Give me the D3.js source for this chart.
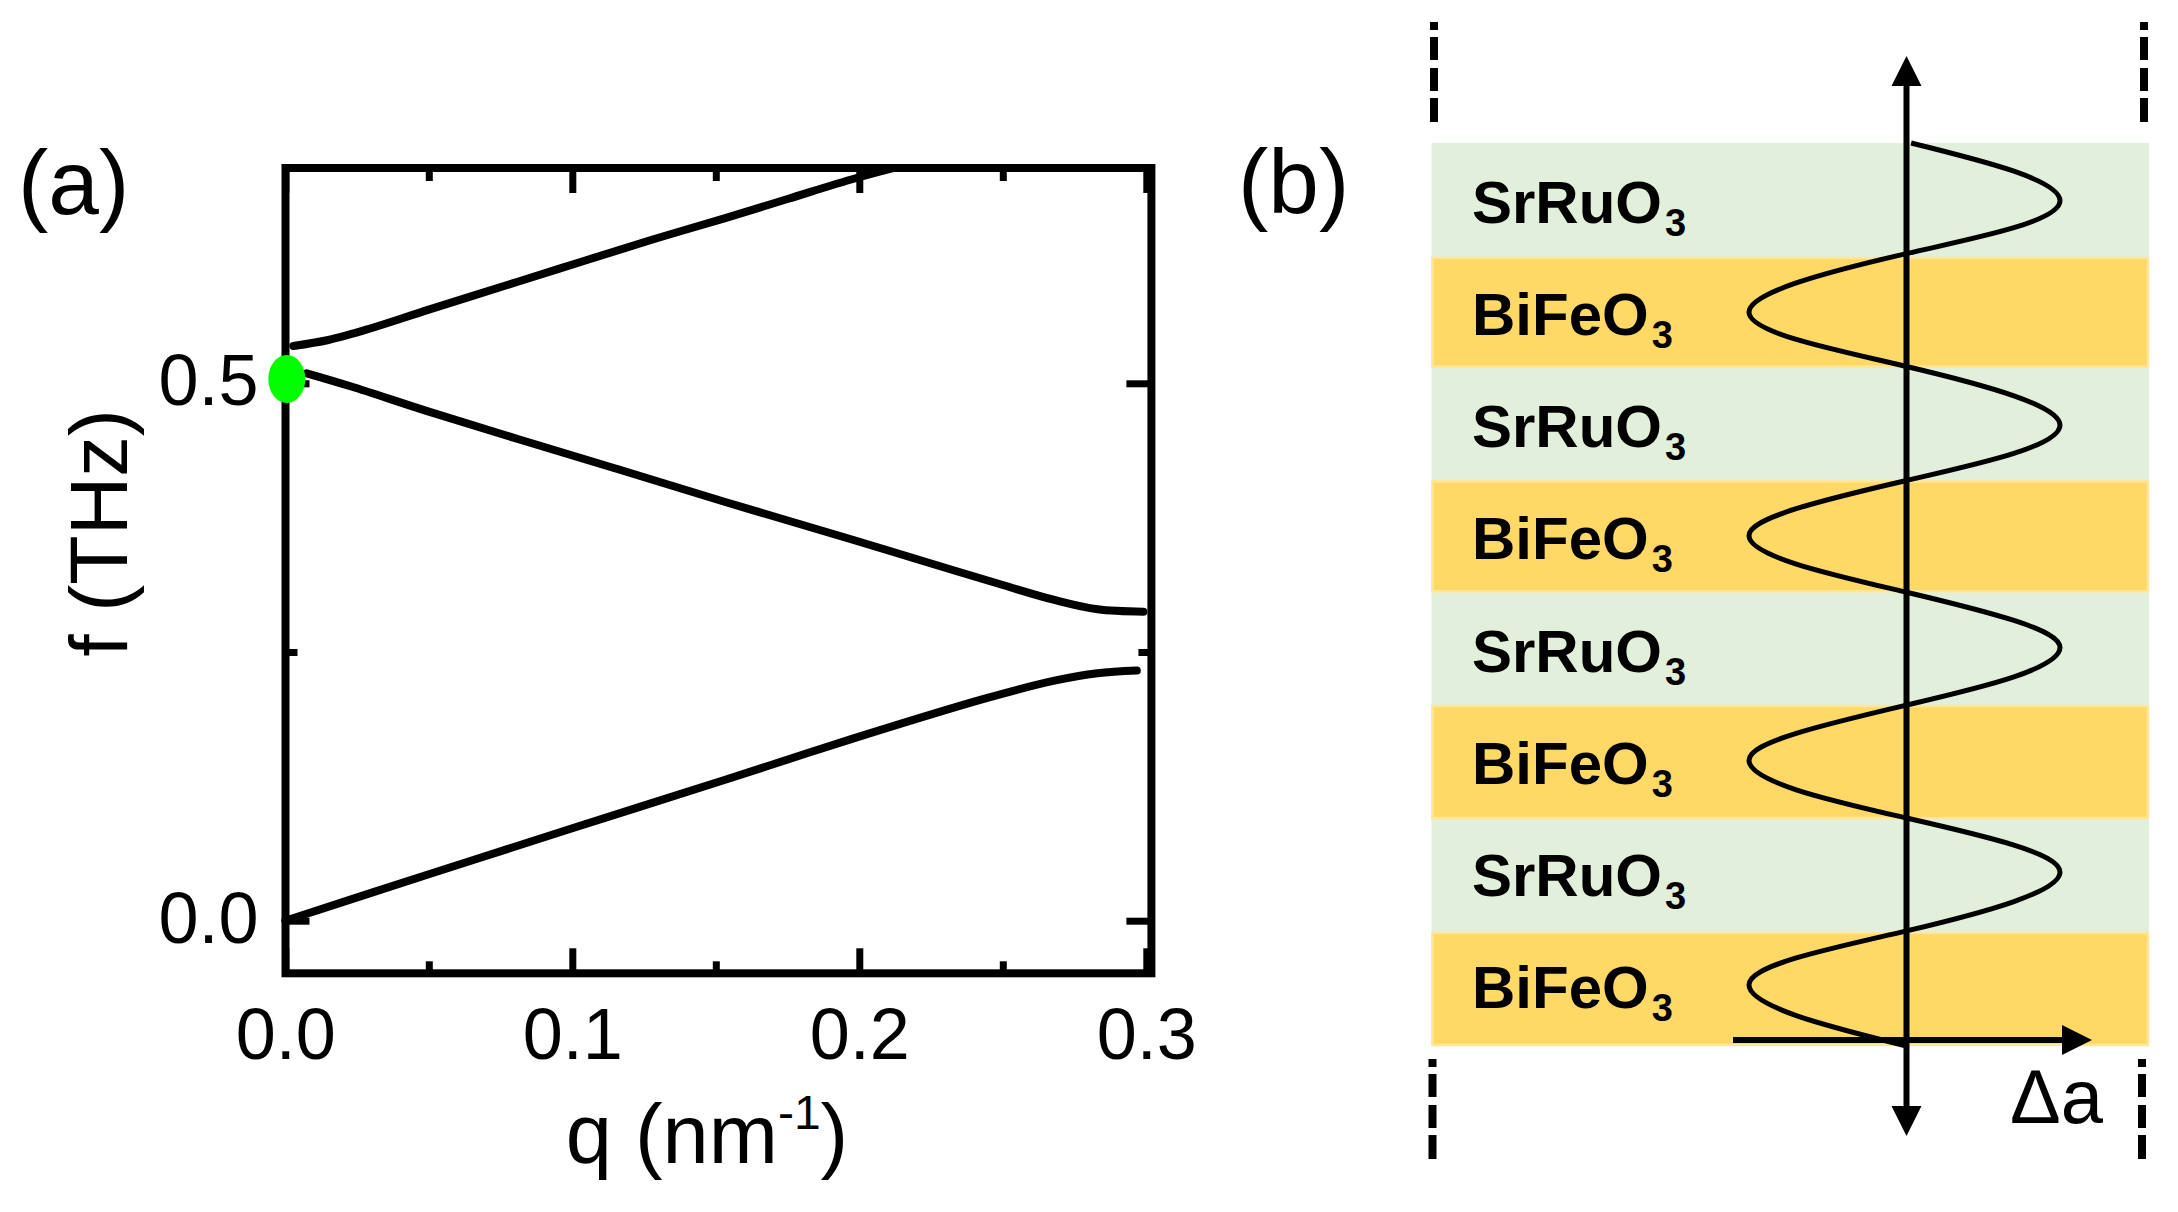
<!DOCTYPE html>
<html>
<head>
<meta charset="utf-8">
<script src="https://cdn.jsdelivr.net/npm/d3@7"></script>
<style>
  html, body { margin: 0; padding: 0; background: #fff; }
  text { font-family: "Liberation Sans", Arial, sans-serif; fill: #000; }
</style>
</head>
<body>
<svg id="chart" width="2178" height="1212"></svg>
<script>
// panel (a) dispersion branches
var lowerQ = [0, 0.05, 0.1, 0.153, 0.198, 0.244, 0.268, 0.283, 0.2967];
var lowerF = [0, 0.0432, 0.086, 0.1309, 0.1696, 0.2068, 0.2233, 0.2302, 0.2327];
var middleQ = [0.0075, 0.023, 0.05, 0.081, 0.116, 0.153, 0.198, 0.221, 0.25, 0.268, 0.283, 0.299];
var middleF = [0.5093, 0.497, 0.4736, 0.4482, 0.42, 0.3898, 0.3542, 0.3356, 0.3123, 0.2984, 0.2897, 0.2875];
var upperQ = [0.0028, 0.015, 0.029, 0.05, 0.081, 0.104, 0.128, 0.153, 0.175, 0.199, 0.224];
var upperF = [0.5347, 0.5403, 0.5505, 0.5685, 0.5945, 0.6138, 0.6338, 0.6535, 0.6715, 0.691, 0.7085];
var pointQ = [0];
var pointF = [0.504];

var xMajor = [0, 0.1, 0.2, 0.3];
var xMinor = [0.05, 0.15, 0.25];
var yMajor = [0, 0.5];
var yMinor = [0.25];

// panel (b) layer stack and lattice mismatch wave
var layerNames = ["SrRuO", "BiFeO", "SrRuO", "BiFeO", "SrRuO", "BiFeO", "SrRuO", "BiFeO"];
var layerColors = ["#E2EFDA", "#FFD966", "#E2EFDA", "#FFD966", "#E2EFDA", "#FFD966", "#E2EFDA", "#FFD966"];
var layerThickness = [1.01, 0.98, 1, 0.99, 1, 1.01, 1, 1.01];
var waveDepth = [0, 0.25, 0.51, 0.75, 0.98, 1.24, 1.5, 1.74, 1.98, 2.24, 2.5, 2.75, 2.99, 3.24, 3.48, 3.73, 3.98, 4.23, 4.47, 4.73, 4.98, 5.23, 5.47, 5.73, 5.98, 6.22, 6.46, 6.72, 6.98, 7.22, 7.46, 7.73, 8];
var waveValue = [0.03, 0.7, 1, 0.7, 0, -0.7, -1, -0.7, 0, 0.7, 1, 0.7, 0, -0.7, -1, -0.7, 0, 0.7, 1, 0.7, 0, -0.7, -1, -0.7, 0, 0.7, 1, 0.7, 0, -0.7, -1, -0.7, 0];

var svg = d3.select("#chart");

// ---- panel (a) ----
var x = d3.scaleLinear().domain([0, 0.3]).range([285.3, 1146.3]);
var y = d3.scaleLinear().domain([0, 0.5]).range([920.7, 383.3]);
var frame = { left: 285.5, right: 1151.4, top: 168, bottom: 973.3 };

var branches = [[lowerQ, lowerF], [middleQ, middleF], [upperQ, upperF]];
var branchLine = d3.line().x(d => x(d[0])).y(d => y(d[1])).curve(d3.curveCatmullRom);

branches.forEach(function (b) {
    svg.append("path")
        .attr("d", branchLine(d3.zip(b[0], b[1])))
        .attr("fill", "none")
        .attr("stroke", "#000")
        .attr("stroke-width", 8)
        .attr("stroke-linecap", "round");
});

// cover what runs over the top of the frame
svg.append("rect")
    .attr("x", frame.left).attr("y", 120)
    .attr("width", frame.right - frame.left).attr("height", frame.top - 120)
    .attr("fill", "#fff");

// ticks on all four sides, labels only bottom and left
function drawTicks(axis, tx, ty, values, size, fmt, pad) {
    var g = svg.append("g")
        .attr("transform", `translate(${tx},${ty})`)
        .call(axis.tickValues(values).tickSizeInner(-size).tickSizeOuter(0).tickPadding(pad).tickFormat(fmt));
    g.select(".domain").remove();
    g.selectAll("line").attr("stroke", "#000").attr("stroke-width", 7);
    g.selectAll("text").attr("font-size", 72).attr("font-family", null);
    return g;
}
var none = () => "";
var one = d3.format(".1f");

drawTicks(d3.axisBottom(x), 0, frame.bottom, xMajor, 25, one, 35);
drawTicks(d3.axisBottom(x), 0, frame.bottom, xMinor, 12, none, 0);
drawTicks(d3.axisTop(x), 0, frame.top, xMajor, 25, none, 0);
drawTicks(d3.axisTop(x), 0, frame.top, xMinor, 13, none, 0);
drawTicks(d3.axisLeft(y), frame.left, 0, yMajor, 24, one, 27).selectAll("text").attr("dy", "0.3em");
drawTicks(d3.axisLeft(y), frame.left, 0, yMinor, 12, none, 0);
drawTicks(d3.axisRight(y), frame.right, 0, yMajor, 25, none, 0);
drawTicks(d3.axisRight(y), frame.right, 0, yMinor, 13, none, 0);

svg.append("rect")
    .attr("x", frame.left).attr("y", frame.top)
    .attr("width", frame.right - frame.left).attr("height", frame.bottom - frame.top)
    .attr("fill", "none")
    .attr("stroke", "#000")
    .attr("stroke-width", 8);

// green marker at q = 0
svg.selectAll(".marker").data(d3.zip(pointQ, pointF)).enter().append("ellipse")
    .attr("class", "marker")
    .attr("cx", d => x(d[0]) + 1.5)
    .attr("cy", d => y(d[1]))
    .attr("rx", 18.5)
    .attr("ry", 24)
    .attr("fill", "#00FF00");

svg.append("text").attr("x", 18).attr("y", 214).attr("font-size", 91).text("(a)");

svg.append("text")
    .attr("transform", "translate(126.5,533) rotate(-90)")
    .attr("text-anchor", "middle")
    .attr("font-size", 81)
    .text("f (THz)");

var xLabel = svg.append("text")
    .attr("x", 707).attr("y", 1163)
    .attr("text-anchor", "middle")
    .attr("font-size", 83);
xLabel.append("tspan").text("q (nm");
xLabel.append("tspan").attr("font-size", 48).attr("dy", -34).text("-1");
xLabel.append("tspan").attr("dy", 34).text(")");

// ---- panel (b) ----
var depth = d3.scaleLinear().domain([0, 8]).range([143, 1046]);
var strain = d3.scaleLinear().domain([-1, 0, 1]).range([1749, 1906.5, 2060]);
var labelY = d3.scaleLinear().domain([0, 7]).range([223, 1008]);
var stack = { left: 1431.5, right: 2149 };
var axisX = strain(0);
var layerTops = d3.cumsum([0].concat(layerThickness));

svg.selectAll(".layer").data(layerNames).enter().append("rect")
    .attr("class", "layer")
    .attr("x", stack.left)
    .attr("y", (d, i) => depth(layerTops[i]))
    .attr("width", stack.right - stack.left)
    .attr("height", (d, i) => depth(layerTops[i + 1]) - depth(layerTops[i]))
    .attr("fill", (d, i) => layerColors[i]);

// the yellow layers have a paler rim
svg.selectAll(".rim").data(layerNames.filter(d => d == "BiFeO")).enter().append("rect")
    .attr("class", "rim")
    .attr("x", stack.left + 1)
    .attr("y", (d, i) => depth(layerTops[2 * i + 1]) + 1)
    .attr("width", stack.right - stack.left - 2)
    .attr("height", (d, i) => depth(layerTops[2 * i + 2]) - depth(layerTops[2 * i + 1]) - 2)
    .attr("fill", "none")
    .attr("stroke", "#FFE699")
    .attr("stroke-width", 2.5);

var layerText = svg.selectAll(".layerText").data(layerNames).enter().append("text")
    .attr("class", "layerText")
    .attr("x", 1472)
    .attr("y", (d, i) => labelY(i))
    .attr("font-size", 60)
    .attr("font-weight", "bold");
layerText.append("tspan").text(d => d);
layerText.append("tspan").attr("font-size", 38).attr("dy", 13).attr("dx", 3).text("3");

var wave = d3.line().x(d => strain(d[1])).y(d => depth(d[0])).curve(d3.curveNatural);
svg.append("path")
    .attr("d", wave(d3.zip(waveDepth, waveValue)))
    .attr("fill", "none")
    .attr("stroke", "#000")
    .attr("stroke-width", 5);

// vertical and horizontal arrows
function arrow(x1, y1, x2, y2, width) {
    svg.append("line")
        .attr("x1", x1).attr("y1", y1).attr("x2", x2).attr("y2", y2)
        .attr("stroke", "#000").attr("stroke-width", width);
}
function head(tipX, tipY, dx, dy) {
    var px = -dy, py = dx;
    var pts = [[tipX, tipY],
        [tipX - dx * 30 + px * 15, tipY - dy * 30 + py * 15],
        [tipX - dx * 30 - px * 15, tipY - dy * 30 - py * 15]];
    svg.append("polygon").attr("points", pts.join(" ")).attr("fill", "#000");
}
arrow(axisX, 70, axisX, 1120, 6);
head(axisX, 56, 0, -1);
head(axisX, 1136, 0, 1);
arrow(1733, 1040, 2065, 1040, 6);
head(2092, 1040, 1, 0);

// dashed boundary marks
var dashMarks = [[1434, 22, 122], [2144, 22, 122], [1432.5, 1059, 1159], [2142, 1059, 1159]];
dashMarks.forEach(function (m) {
    svg.append("line")
        .attr("x1", m[0]).attr("y1", m[1]).attr("x2", m[0]).attr("y2", m[2])
        .attr("stroke", "#000")
        .attr("stroke-width", 8)
        .attr("stroke-dasharray", "8 7 23 8 23 7 24");
});

svg.append("text").attr("x", 1238).attr("y", 213).attr("font-size", 91).text("(b)");
svg.append("text").attr("x", 2010).attr("y", 1123).attr("font-size", 76).text("Δa");
</script>
</body>
</html>
